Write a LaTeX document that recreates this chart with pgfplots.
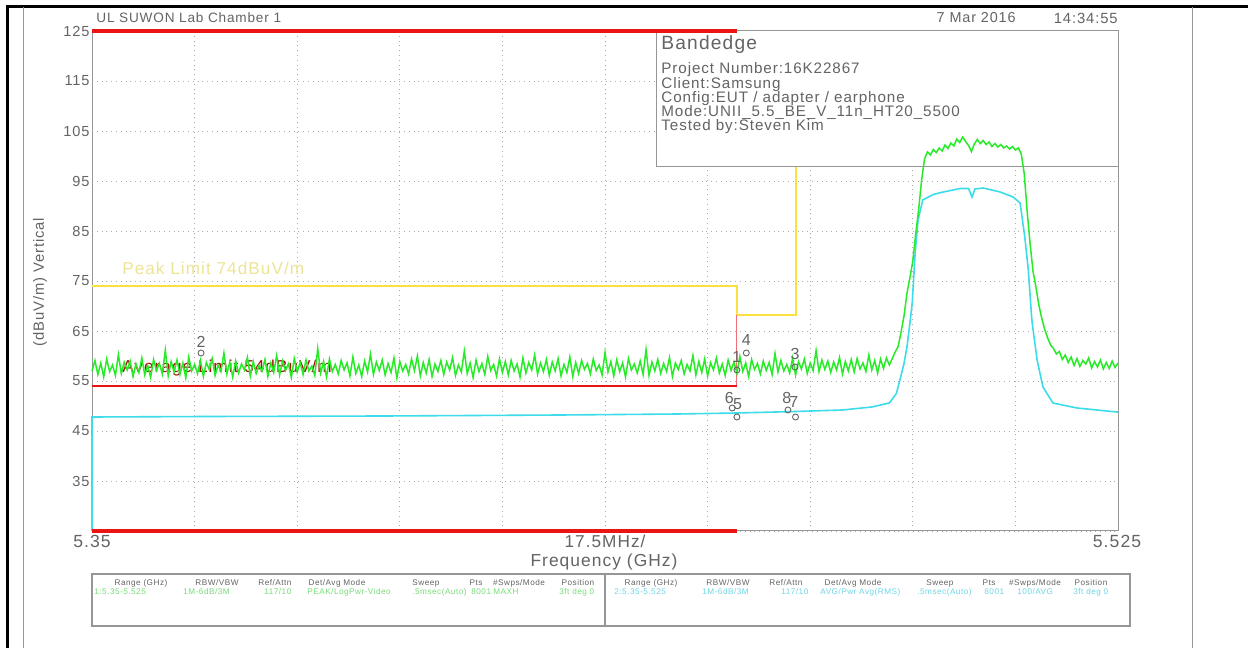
\documentclass[border=0pt]{standalone}
\usepackage{pgfplots}
\pgfplotsset{compat=1.18}
\usepackage{fontspec}
\setmainfont[LetterSpace=6]{Liberation Sans}
\definecolor{tgreen}{RGB}{40,235,40}
\definecolor{tcyan}{RGB}{60,220,235}
\definecolor{tred}{RGB}{235,20,20}
\definecolor{tpink}{RGB}{240,110,120}
\definecolor{tyellow}{RGB}{250,225,60}
\definecolor{tpale}{RGB}{238,228,150}
\definecolor{tgray}{RGB}{100,100,100}
\definecolor{tframe}{RGB}{150,150,150}
\definecolor{tvalg}{RGB}{120,220,120}
\definecolor{tvalc}{RGB}{110,215,230}
\newcommand\fs[1]{\fontsize{#1}{#1}\selectfont}
\begin{document}
\begin{tikzpicture}
\useasboundingbox (0,0) rectangle (624pt,324pt);
\fill[white] (0,0) rectangle (624pt,324pt);
\begin{axis}[
  at={(46pt,58.5pt)}, anchor=south west,
  scale only axis, width=513pt, height=250pt,
  xmin=5.35, xmax=5.525, ymin=25, ymax=125,
  xtick={5.35,5.3675,5.385,5.4025,5.42,5.4375,5.455,5.4725,5.49,5.5075,5.525},
  xticklabels={},
  ytick={25,35,45,55,65,75,85,95,105,115,125},
  yticklabels={,35,45,55,65,75,85,95,105,115,125},
  major tick length=0pt,
  grid=major,
  grid style={tframe!80, dotted, line width=0.45pt},
  axis line style={tframe, line width=0.5pt},
  yticklabel style={font=\fs{7.3}, text=tgray, inner sep=1pt},
  clip=false,
]
% info box
\draw[tframe, fill=white, line width=0.5pt] (axis cs:5.4462,97.8) rectangle (axis cs:5.525,125);
% peak limit
\addplot[tyellow, line width=1pt] coordinates {(5.35,74) (5.46,74) (5.46,68.2) (5.47,68.2) (5.47,97.8)};
% average limit
\addplot[tpink, line width=0.5pt] coordinates {(5.46,54) (5.46,68.2)};
\addplot[tred, line width=1pt] coordinates {(5.35,54) (5.46,54)};
% limit labels
\node[font=\fs{8.6}, text=tpale, anchor=west, inner sep=0pt] at (axis cs:5.3551,77.6) {Peak Limit 74dBuV/m};
\node[font=\fs{8.6}, text=tred!70!black, anchor=west, inner sep=0pt] at (axis cs:5.3551,57.6) {Average Limit 54dBuV/m};
% average trace
\addplot[tcyan, line width=0.8pt] coordinates {
(5.35,25) (5.35,47.8) (5.37,47.9) (5.40,48.0) (5.43,48.2) (5.45,48.4) (5.46,48.6)
(5.47,48.9) (5.478,49.2) (5.483,49.8) (5.486,50.6) (5.4872,52.5) (5.4878,55.2)
(5.4885,58.5) (5.4890,61.8) (5.4895,66.5) (5.4899,70.6) (5.4904,80.6) (5.4909,87.2)
(5.4917,91.2) (5.4935,92.3) (5.4952,92.8) (5.4981,93.5) (5.4995,93.5) (5.5001,91.8)
(5.5006,93.4) (5.5020,93.6) (5.5049,92.8) (5.5071,91.8) (5.5083,90.6) (5.5091,83.8)
(5.5097,77.2) (5.5103,67.2) (5.5112,59.2) (5.5122,53.8) (5.5139,50.6) (5.5180,49.6)
(5.5248,48.8) (5.525,48.8)};
% peak trace
\addplot[tgreen, line width=0.75pt] table[row sep=\\, header=false, x expr={5.35+\coordindex*0.0005}, y index=0] {
57.0\\59.1\\56.3\\58.6\\55.8\\59.4\\56.9\\58.2\\56.1\\60.3\\
56.5\\58.8\\57.2\\59.0\\55.9\\58.4\\56.7\\59.6\\56.2\\58.1\\
55.7\\59.3\\57.1\\58.5\\56.4\\61.2\\56.0\\58.9\\56.8\\59.2\\
56.3\\58.6\\55.6\\59.8\\57.0\\58.3\\56.5\\59.1\\55.9\\58.7\\
57.3\\59.5\\56.1\\58.2\\56.9\\60.6\\56.4\\58.8\\55.8\\59.0\\
56.6\\58.4\\57.2\\59.7\\56.0\\58.9\\56.5\\58.1\\57.0\\59.3\\
55.9\\58.6\\56.7\\60.1\\56.2\\59.0\\57.1\\58.4\\55.7\\59.5\\
56.8\\58.7\\56.3\\59.2\\57.0\\58.0\\56.1\\61.5\\56.6\\58.9\\
55.8\\59.4\\56.9\\58.3\\56.4\\59.1\\57.2\\58.6\\56.0\\59.8\\
56.5\\58.2\\55.9\\59.0\\56.8\\60.4\\56.3\\58.8\\57.1\\59.2\\
56.2\\58.5\\56.7\\59.6\\55.6\\58.9\\57.0\\58.3\\56.4\\59.4\\
57.1\\60.0\\56.0\\58.7\\56.6\\59.3\\55.9\\58.4\\56.9\\59.1\\
56.3\\58.8\\57.2\\59.7\\56.1\\58.2\\56.8\\61.0\\56.5\\58.6\\
55.7\\59.2\\56.9\\58.5\\56.3\\59.9\\57.1\\58.3\\56.0\\59.4\\
56.7\\58.9\\56.2\\59.1\\57.0\\58.4\\55.8\\59.6\\56.6\\58.7\\
57.2\\60.2\\56.4\\58.6\\56.9\\59.3\\56.1\\58.8\\57.0\\59.5\\
56.0\\58.3\\56.7\\59.8\\55.9\\58.7\\56.5\\59.1\\57.3\\58.5\\
56.4\\59.4\\57.1\\58.2\\56.2\\60.7\\56.8\\58.9\\56.0\\59.2\\
56.9\\58.6\\55.8\\59.5\\57.2\\58.4\\56.6\\59.0\\56.3\\61.3\\
56.1\\58.8\\57.0\\59.3\\56.5\\58.5\\56.9\\59.7\\55.9\\58.6\\
57.3\\59.1\\56.4\\58.3\\57.0\\60.1\\56.2\\58.9\\56.7\\59.4\\
56.0\\58.7\\57.2\\59.6\\56.6\\58.4\\56.1\\59.2\\57.1\\58.8\\
56.5\\59.9\\56.9\\58.6\\55.9\\59.3\\57.3\\58.5\\56.4\\59.0\\
57.1\\58.7\\56.3\\60.5\\56.8\\59.1\\57.0\\58.3\\56.6\\59.6\\
56.2\\58.9\\57.4\\59.4\\56.5\\58.6\\57.1\\61.1\\56.9\\59.2\\
57.3\\59.0\\56.7\\58.8\\57.2\\59.7\\56.4\\58.9\\57.0\\59.3\\
56.8\\59.5\\57.4\\58.6\\56.9\\60.2\\57.2\\59.1\\56.6\\59.4\\
57.5\\59.6\\58.2\\
59.5\\60.8\\61.9\\64.8\\68.0\\72.5\\75.6\\79.0\\84.5\\89.3\\95.2\\99.4\\100.8\\
100.2\\101.3\\100.7\\101.6\\101.0\\102.2\\101.5\\102.6\\102.0\\103.4\\102.7\\103.8\\102.9\\102.1\\100.9\\102.4\\
103.3\\102.5\\103.1\\102.3\\102.8\\101.9\\102.5\\101.8\\102.3\\101.6\\102.0\\101.4\\101.9\\101.2\\101.6\\
100.4\\96.5\\89.0\\82.5\\77.0\\73.8\\70.2\\67.5\\65.3\\63.6\\62.2\\61.5\\60.4\\60.9\\
59.3\\60.2\\58.7\\59.8\\58.1\\59.5\\57.9\\59.1\\58.4\\59.6\\57.6\\58.9\\57.8\\59.2\\57.4\\58.7\\57.5\\59.0\\57.7\\58.6\\
};
% restricted band lines
\addplot[tred, line width=1.6pt] coordinates {(5.35,125) (5.46,125)};
\addplot[tred, line width=1.6pt] coordinates {(5.35,25) (5.46,25)};
% markers
\addplot[only marks, mark=o, mark size=1.5pt, tgray, mark options={line width=0.45pt}] coordinates {
(5.46,57.2) (5.3686,60.6) (5.4699,57.8) (5.4616,60.6) (5.46,47.8) (5.4592,49.6) (5.47,47.8) (5.4687,49.2)};
\node[font=\fs{8}, text=tgray] at (axis cs:5.46,59.8) {1};
\node[font=\fs{8}, text=tgray] at (axis cs:5.3686,62.8) {2};
\node[font=\fs{8}, text=tgray] at (axis cs:5.4699,60.4) {3};
\node[font=\fs{8}, text=tgray] at (axis cs:5.4616,63.2) {4};
\node[font=\fs{8}, text=tgray] at (axis cs:5.4601,50.4) {5};
\node[font=\fs{8}, text=tgray] at (axis cs:5.4587,51.6) {6};
\node[font=\fs{8}, text=tgray] at (axis cs:5.4697,50.8) {7};
\node[font=\fs{8}, text=tgray] at (axis cs:5.4685,51.6) {8};
\end{axis}
\begin{scope}[x=0.5pt, y=-0.5pt, shift={(0,324pt)}]
% page frame
\draw[black, line width=1.5pt] (7,648) -- (7,7) -- (1248,7);
\draw[tframe, line width=0.5pt] (23,7) -- (23,648);
\draw[tframe, line width=0.5pt] (1192,7) -- (1192,648);
% header
\node[font=\fs{6.8}, text=tgray, anchor=west, inner sep=0pt] at (96,18) {UL SUWON Lab Chamber 1};
\node[font=\fs{7.2}, text=tgray, anchor=east, inner sep=0pt] at (1016,18) {7 Mar 2016};
\node[font=\fs{7.4}, text=tgray, anchor=east, inner sep=0pt] at (1118,18) {14:34:55};
% x labels
\node[font=\fs{8.8}, text=tgray, inner sep=0pt] at (92,541) {5.35};
\node[font=\fs{8.6}, text=tgray, inner sep=0pt] at (605,541) {17.5MHz/};
\node[font=\fs{8.8}, text=tgray, inner sep=0pt] at (1117,541) {5.525};
\node[font=\fs{8.7}, text=tgray, inner sep=0pt] at (604,562) {Frequency (GHz)};
\node[font=\fs{7.4}, text=tgray, inner sep=0pt, rotate=90] at (40,282) {(dBuV/m) Vertical};
% info box text
\node[font=\fs{9.6}, text=tgray, anchor=west, inner sep=0pt] at (661,45) {Bandedge};
\node[font=\fs{7.6}, text=tgray, anchor=west, inner sep=0pt] at (661,70) {Project Number:16K22867};
\node[font=\fs{7.6}, text=tgray, anchor=west, inner sep=0pt] at (661,85) {Client:Samsung};
\node[font=\fs{7.6}, text=tgray, anchor=west, inner sep=0pt] at (661,99) {Config:EUT / adapter / earphone};
\node[font=\fs{7.6}, text=tgray, anchor=west, inner sep=0pt] at (661,113) {Mode:UNII\_5.5\_BE\_V\_11n\_HT20\_5500};
\node[font=\fs{7.6}, text=tgray, anchor=west, inner sep=0pt] at (661,127) {Tested by:Steven Kim};
% bottom table
\draw[tframe, line width=0.6pt] (92,574) rectangle (1130,626);
\draw[tframe, line width=0.6pt] (605,574) -- (605,626);
\foreach \xx/\tt in {141/{Range (GHz)},217/{RBW/VBW},275/{Ref/Attn},337/{Det/Avg Mode},426/{Sweep},476/{Pts},519/{\#Swps/Mode},578/{Position},
  651/{Range (GHz)},728/{RBW/VBW},786/{Ref/Attn},853/{Det/Avg Mode},940/{Sweep},989/{Pts},1035/{\#Swps/Mode},1091/{Position}}
  \node[font=\fs{4.1}, text=tgray, inner sep=0pt] at (\xx,583) {\tt};
\foreach \xx/\tt in {94/{1:5.35-5.525},183/{1M-6dB/3M},264/{117/10},307/{PEAK/LogPwr-Video},412/{.5msec(Auto)},471/{8001},493/{MAXH},559/{3ft deg 0}}
  \node[font=\fs{4.1}, text=tvalg, inner sep=0pt, anchor=west] at (\xx,592) {\tt};
\foreach \xx/\tt in {614/{2:5.35-5.525},702/{1M-6dB/3M},781/{117/10},820/{AVG/Pwr Avg(RMS)},917/{.5msec(Auto)},984/{8001},1017/{100/AVG},1073/{3ft deg 0}}
  \node[font=\fs{4.1}, text=tvalc, inner sep=0pt, anchor=west] at (\xx,592) {\tt};
\end{scope}
\end{tikzpicture}
\end{document}
